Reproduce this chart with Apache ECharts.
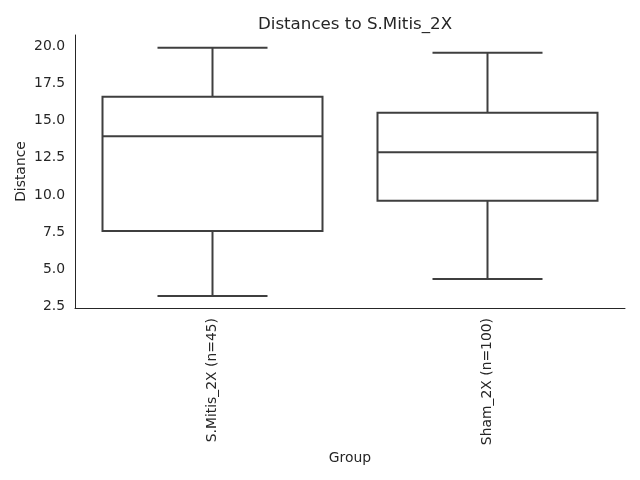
<!DOCTYPE html>
<html>
<head>
<meta charset="utf-8">
<script src="https://cdn.jsdelivr.net/npm/echarts@6/dist/echarts.min.js"></script>
<style>
html,body{margin:0;padding:0;background:#fff;}
#chart{width:640px;height:480px;}
</style>
</head>
<body>
<div id="chart"></div>
<script>
const categories = ['S.Mitis_2X (n=45)', 'Sham_2X (n=100)'];
const whiskerLow = [3.23, 4.37];
const q1 = [7.59, 9.61];
const median = [13.95, 12.88];
const q3 = [16.60, 15.52];
const whiskerHigh = [19.89, 19.55];
const yTicks = [2.5, 5.0, 7.5, 10.0, 12.5, 15.0, 17.5, 20.0];

const boxData = categories.map((c, i) => [i, whiskerLow[i], q1[i], median[i], q3[i], whiskerHigh[i]]);

const FONT = 'DejaVu Sans';
const TXT = '#262626';
const LINE = '#3f3f3f';

const chart = echarts.init(document.getElementById('chart'), null, {renderer: 'canvas'});
chart.setOption({
  backgroundColor: '#ffffff',
  animation: false,
  title: {
    text: 'Distances to S.Mitis_2X',
    left: 350, top: 11, textAlign: 'center',
    textStyle: {fontFamily: FONT, fontSize: 16.7, fontWeight: 'normal', color: TXT}
  },
  grid: {left: 75, right: 15, top: 35, bottom: 172, containLabel: false},
  xAxis: {
    type: 'category',
    data: categories,
    boundaryGap: true,
    axisLine: {show: true, lineStyle: {color: TXT, width: 1}},
    axisTick: {show: false},
    splitLine: {show: false},
    axisLabel: {rotate: 90, margin: 10, fontFamily: FONT, fontSize: 13.9, color: TXT, interval: 0},
    name: 'Group',
    nameLocation: 'middle',
    nameGap: 143,
    nameMoveOverlap: false,
    nameTextStyle: {fontFamily: FONT, fontSize: 13.9, color: TXT}
  },
  yAxis: {
    type: 'value',
    min: 2.42, max: 20.74,
    axisLine: {show: true, lineStyle: {color: TXT, width: 1}},
    axisTick: {show: false},
    splitLine: {show: false},
    axisLabel: {
      customValues: yTicks,
      formatter: v => v.toFixed(1),
      margin: 10, fontFamily: FONT, fontSize: 13.9, color: TXT
    },
    name: 'Distance',
    nameLocation: 'middle',
    nameRotate: 90,
    nameGap: 47,
    nameMoveOverlap: false,
    nameTextStyle: {fontFamily: FONT, fontSize: 13.9, color: TXT}
  },
  series: [{
    type: 'custom',
    data: boxData,
    encode: {x: 0, y: [1, 2, 3, 4, 5]},
    renderItem: function (params, api) {
      const x = api.value(0);
      const pLow = api.coord([x, api.value(1)]);
      const pQ1 = api.coord([x, api.value(2)]);
      const pMed = api.coord([x, api.value(3)]);
      const pQ3 = api.coord([x, api.value(4)]);
      const pHigh = api.coord([x, api.value(5)]);
      const bw = api.size([1, 0])[0] * 0.8;
      const cx = pLow[0];
      const hw = bw / 2, cw = bw / 4;
      const st = {stroke: LINE, lineWidth: 2, fill: null};
      return {
        type: 'group',
        children: [
          {type: 'line', shape: {x1: cx, y1: pLow[1], x2: cx, y2: pQ1[1]}, style: st},
          {type: 'line', shape: {x1: cx, y1: pQ3[1], x2: cx, y2: pHigh[1]}, style: st},
          {type: 'line', shape: {x1: cx - cw, y1: pLow[1], x2: cx + cw, y2: pLow[1]}, style: st},
          {type: 'line', shape: {x1: cx - cw, y1: pHigh[1], x2: cx + cw, y2: pHigh[1]}, style: st},
          {type: 'rect', shape: {x: cx - hw, y: pQ3[1], width: bw, height: pQ1[1] - pQ3[1]},
           style: {stroke: LINE, lineWidth: 2, fill: '#ffffff'}},
          {type: 'line', shape: {x1: cx - hw, y1: pMed[1], x2: cx + hw, y2: pMed[1]}, style: st}
        ]
      };
    }
  }]
});
</script>
</body>
</html>
